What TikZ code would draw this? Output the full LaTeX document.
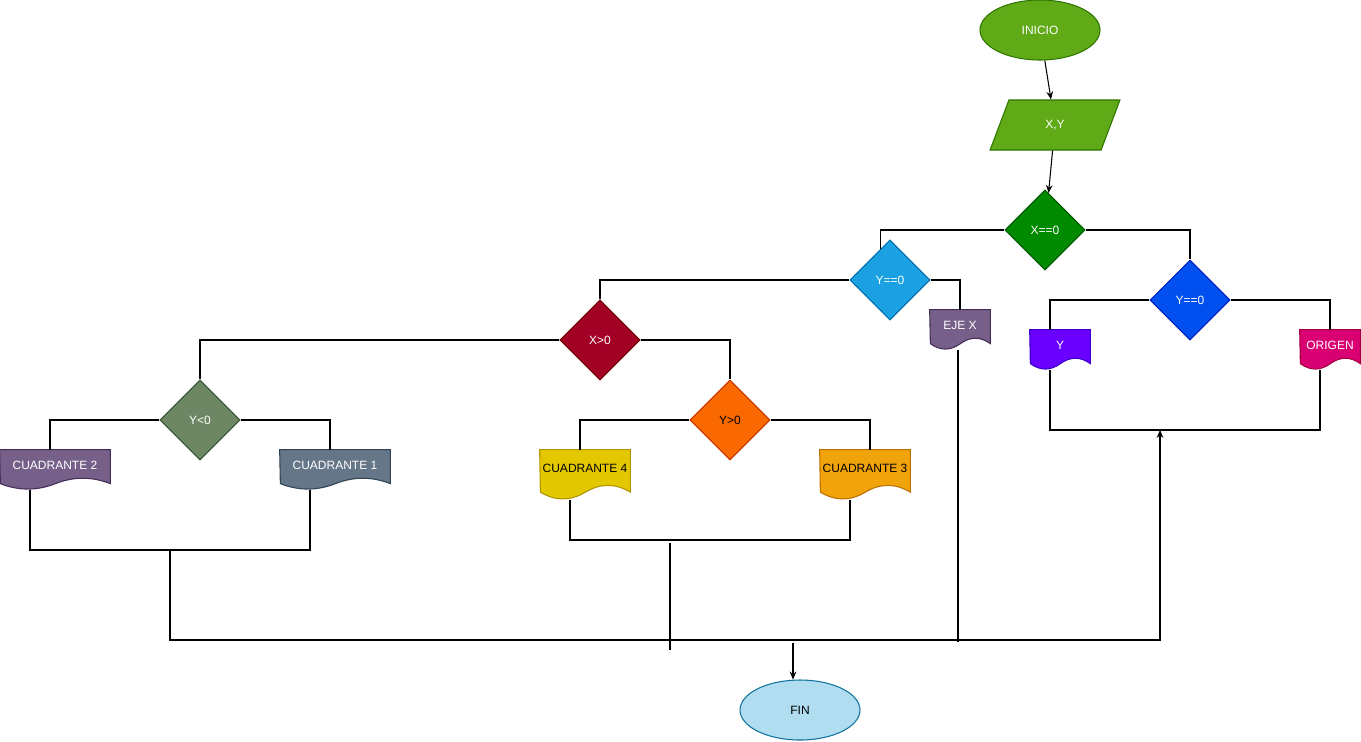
\documentclass[tikz,border=0pt]{standalone}
\usepackage{fontspec}
\setmainfont{Liberation Sans}
\usepackage{xcolor}
\usetikzlibrary{arrows.meta,shapes.geometric,backgrounds}

\newcommand{\pxu}{0.02cm}
\definecolor{startgreen}{HTML}{60A917}
\definecolor{startgreenb}{HTML}{2D7600}
\definecolor{xzerogreen}{HTML}{008A00}
\definecolor{xzerogreenb}{HTML}{005700}
\definecolor{cyanq}{HTML}{1BA1E2}
\definecolor{cyanqb}{HTML}{006EAF}
\definecolor{blueq}{HTML}{0050EF}
\definecolor{blueqb}{HTML}{001DBC}
\definecolor{crimsonq}{HTML}{A20025}
\definecolor{crimsonqb}{HTML}{6F0000}
\definecolor{oliveq}{HTML}{6D8764}
\definecolor{oliveqb}{HTML}{3A5431}
\definecolor{orangeq}{HTML}{FA6800}
\definecolor{orangeqb}{HTML}{C73500}
\definecolor{mauvedoc}{HTML}{76608A}
\definecolor{mauvedocb}{HTML}{432D57}
\definecolor{slatedoc}{HTML}{647687}
\definecolor{slatedocb}{HTML}{314354}
\definecolor{yellowdoc}{HTML}{E3C800}
\definecolor{yellowdocb}{HTML}{B09500}
\definecolor{amberdoc}{HTML}{F0A30A}
\definecolor{amberdocb}{HTML}{BD7000}
\definecolor{violetdoc}{HTML}{6A00FF}
\definecolor{violetdocb}{HTML}{3700CC}
\definecolor{magentadoc}{HTML}{D80073}
\definecolor{magentadocb}{HTML}{A50040}
\definecolor{endblue}{HTML}{B1DDF0}
\definecolor{endblueb}{HTML}{10739E}

\begin{document}
\begin{tikzpicture}[x=0.02cm,y=-0.02cm,
  font=\fontsize{6.83}{8}\selectfont,
  terminal/.style={ellipse,draw,line width=0.6pt,minimum width=120*\pxu,minimum height=60*\pxu,inner sep=0pt},
  inbox/.style={trapezium,trapezium left angle=68,trapezium right angle=112,trapezium stretches=true,draw,line width=0.6pt,minimum width=130*\pxu,minimum height=50*\pxu,inner sep=0pt},
  decision/.style={diamond,draw,line width=0.6pt,minimum width=80*\pxu,minimum height=80*\pxu,inner sep=0pt,text=white},
  docbox/.style n args={3}{rectangle,inner sep=0pt,minimum width=#1*\pxu,minimum height=#2*\pxu,text height=0.716em,text depth=#3},
  conn/.style={line width=0.6pt},
  arr/.style={conn,-{Stealth[length=4.5pt,width=3.8pt]}}]
\useasboundingbox (0,0) rectangle (1361,741);
\node[terminal,fill=startgreen,draw=startgreenb,text=white] (inicio) at (1040,30) {INICIO};
\node[inbox,fill=startgreen,draw=startgreenb,text=white] (xy) at (1055,125) {X,Y};
\node[decision,fill=xzerogreen,draw=xzerogreenb] (x0) at (1045,230) {X==0};
\node[decision,fill=cyanq,draw=cyanqb] (y0a) at (890,280) {Y==0};
\node[decision,fill=blueq,draw=blueqb] (y0b) at (1190,300) {Y==0};
\node[decision,fill=crimsonq,draw=crimsonqb] (xpos) at (600,340) {X>0};
\node[decision,fill=oliveq,draw=oliveqb] (yneg) at (200,420) {Y<0};
\node[decision,fill=orangeq,draw=orangeqb,text=black] (ypos) at (730,420) {Y>0};
\node[docbox={60}{40}{0.272cm},text=white] (ejex) at (960,330) {EJE X};
\node[docbox={60}{40}{0.272cm},text=white] (ydoc) at (1060,350) {Y};
\node[docbox={60}{40}{0.272cm},text=white] (origen) at (1330,350) {ORIGEN};
\node[docbox={110}{40}{0.272cm},text=white] (cuad2) at (55,470) {CUADRANTE 2};
\node[docbox={110}{40}{0.272cm},text=white] (cuad1) at (335,470) {CUADRANTE 1};
\node[docbox={90}{50}{0.34cm}] (cuad4) at (585,475) {CUADRANTE 4};
\node[docbox={90}{50}{0.34cm}] (cuad3) at (865,475) {CUADRANTE 3};
\node[terminal,fill=endblue,draw=endblueb] (fin) at (800,710) {FIN};
\coordinate (yjoin) at (1160,430);
\coordinate (cuadjoinl) at (170,550);
\coordinate (cuadjoinm) at (670,540);
\coordinate (botright) at (1160,640);
\coordinate (cuadtail) at (670,543);
\coordinate (cuadtailend) at (670,650);
\coordinate (ejexend) at (958,642);
\coordinate (finin) at (793,643);
% arrows from the top
\draw[arr] (inicio) -- (xy);
\draw[arr] (xy) -- (x0);
% branches
\draw[conn] (x0.west) -| (y0a.108);
\draw[conn] (x0.east) -| (y0b.north);
\draw[conn] (y0a.west) -| (xpos.north);
\draw[conn] (y0a.east) -| (ejex.north);
\draw[conn] (y0b.west) -| ([xshift=-10*\pxu]ydoc.north);
\draw[conn] (y0b.east) -| (origen.north);
\draw[conn] (xpos.west) -| (yneg.north);
\draw[conn] (xpos.east) -| (ypos.north);
\draw[conn] (yneg.west) -| ([xshift=-5*\pxu]cuad2.north);
\draw[conn] (yneg.east) -| ([xshift=-5*\pxu]cuad1.north);
\draw[conn] (ypos.west) -| ([xshift=-5*\pxu]cuad4.north);
\draw[conn] (ypos.east) -| ([xshift=5*\pxu]cuad3.north);
% joins at the bottom
\draw[conn] ([xshift=-10*\pxu]ydoc.south) |- (yjoin) -| ([xshift=-10*\pxu]origen.south);
\draw[conn] ([xshift=-25*\pxu]cuad2.south) |- (cuadjoinl) -| ([xshift=-25*\pxu]cuad1.south);
\draw[conn] ([xshift=-15*\pxu]cuad4.south) |- (cuadjoinm) -| ([xshift=-15*\pxu]cuad3.south);
\draw[conn] (cuadtail) -- (cuadtailend);
\draw[conn] ([xshift=-2*\pxu]ejex.south) -- (ejexend);
\draw[arr] (cuadjoinl) |- (botright) -- (yjoin);
\draw[arr] (finin) -- (finin |- fin.north);
% wavy document shapes
\begin{scope}[on background layer]
\fill[white] (0,0) rectangle (1361,741);
\foreach \n/\w/\h/\f/\d in {ejex/60/40/mauvedoc/mauvedocb, ydoc/60/40/violetdoc/violetdocb,
    origen/60/40/magentadoc/magentadocb, cuad2/110/40/mauvedoc/mauvedocb,
    cuad1/110/40/slatedoc/slatedocb, cuad4/90/50/yellowdoc/yellowdocb,
    cuad3/90/50/amberdoc/amberdocb}
  \draw[conn,fill=\f,draw=\d] (\n.north west) -- (\n.north east) -- ++(0,0.85*\h)
    .. controls +(-\w/6,-0.18*\h) and +(\w/6,-0.18*\h) .. ++(-\w/2,0)
    .. controls +(-\w/6,0.18*\h) and +(\w/6,0.18*\h) .. ++(-\w/2,0) -- cycle;
\end{scope}
\end{tikzpicture}
\end{document}
